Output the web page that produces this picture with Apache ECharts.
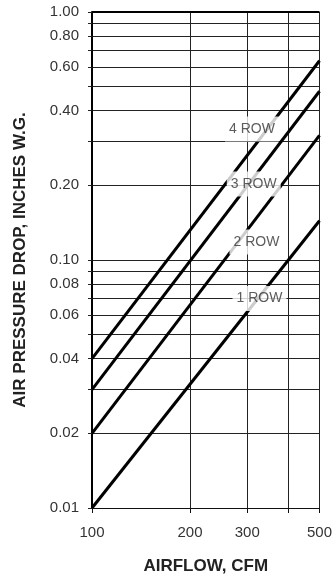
<!DOCTYPE html>
<html>
<head>
<meta charset="utf-8">
<script src="https://cdn.jsdelivr.net/npm/echarts@6/dist/echarts.min.js"></script>
<style>
  html, body { margin: 0; padding: 0; background: #fff; }
  #chart { width: 335px; height: 580px; }
</style>
</head>
<body>
<div id="chart"></div>
<script>
// Coil air pressure drop vs airflow, log-log scales
const airflow = [100, 500];
const row1 = [0.010, 0.144];
const row2 = [0.020, 0.318];
const row3 = [0.030, 0.479];
const row4 = [0.040, 0.636];
const rowNames = ['1 ROW', '2 ROW', '3 ROW', '4 ROW'];

const xTicks = [100, 200, 300, 400, 500];
const xLabels = [100, 200, 300, 500];
const yTicks = [0.01, 0.02, 0.03, 0.04, 0.05, 0.06, 0.07, 0.08, 0.09,
                0.1, 0.2, 0.3, 0.4, 0.5, 0.6, 0.7, 0.8, 0.9, 1.0];
const yLabels = [0.01, 0.02, 0.04, 0.06, 0.08, 0.1, 0.2, 0.4, 0.6, 0.8, 1.0];

const tickFont = "'Liberation Sans Narrow', 'Liberation Sans', Arial, sans-serif";
const titleFont = "'Liberation Sans', Arial, sans-serif";

function pairs(ys) {
  return airflow.map((x, i) => [x, ys[i]]);
}

const rowSeries = [row1, row2, row3, row4].map((ys, i) => ({
  name: rowNames[i],
  type: 'line',
  data: pairs(ys),
  symbol: 'none',
  lineStyle: { color: '#000', width: 3 },
  z: 3,
  silent: true
}));

// where each curve's name sits along its line
const tagSpots = [[327, 0.0699], [320, 0.1181], [314, 0.2025], [310, 0.3374]];

const chart = echarts.init(document.getElementById('chart'), null, { renderer: 'canvas' });
chart.setOption({
  animation: false,
  backgroundColor: '#fff',
  grid: { left: 92, right: 12, top: 12, bottom: 70 },
  xAxis: {
    type: 'log',
    logBase: 10,
    min: 100,
    max: 500,
    name: 'AIRFLOW, CFM',
    nameLocation: 'middle',
    nameGap: 50,
    nameTextStyle: { fontFamily: titleFont, fontWeight: 'bold', fontSize: 17, color: '#222' },
    axisLine: { show: true, onZero: false, lineStyle: { color: '#111', width: 1 } },
    axisTick: { show: true, customValues: xTicks, length: 5, lineStyle: { color: '#111', width: 1 } },
    axisLabel: {
      customValues: xLabels,
      margin: 17,
      fontFamily: tickFont,
      fontSize: 15,
      color: '#333',
      formatter: v => String(Math.round(v))
    },
    splitLine: { show: true, lineStyle: { color: '#222', width: 1 } }
  },
  yAxis: {
    type: 'log',
    logBase: 10,
    min: 0.01,
    max: 1,
    name: 'AIR PRESSURE DROP, INCHES W.G.',
    nameLocation: 'middle',
    nameRotate: 90,
    nameGap: 63,
    nameTextStyle: { fontFamily: titleFont, fontWeight: 'bold', fontSize: 17, color: '#222' },
    axisLine: { show: true, lineStyle: { color: '#000', width: 2 } },
    axisTick: { show: true, customValues: yTicks, length: 4, lineStyle: { color: '#222', width: 1 } },
    axisLabel: {
      customValues: yLabels,
      margin: 13,
      fontFamily: tickFont,
      fontSize: 15,
      color: '#333',
      formatter: v => Number(v).toFixed(2)
    },
    splitLine: { show: true, lineStyle: { color: '#222', width: 1 } }
  },
  series: rowSeries.concat([
    {
      // heavier rule across the top of the plot
      type: 'line',
      data: [],
      silent: true,
      markLine: {
        silent: true,
        symbol: 'none',
        label: { show: false },
        lineStyle: { color: '#000', width: 2, type: 'solid' },
        data: [{ yAxis: 1 }]
      }
    },
    {
      type: 'scatter',
      symbolSize: 0,
      z: 10,
      silent: true,
      data: tagSpots.map((p, i) => ({ value: p, name: rowNames[i] })),
      label: {
        show: true,
        position: 'inside',
        formatter: p => p.name,
        fontFamily: tickFont,
        fontSize: 14,
        color: '#333',
        backgroundColor: '#fff',
        padding: [6, 4, 5, 4]
      }
    }
  ])
});
</script>
</body>
</html>
